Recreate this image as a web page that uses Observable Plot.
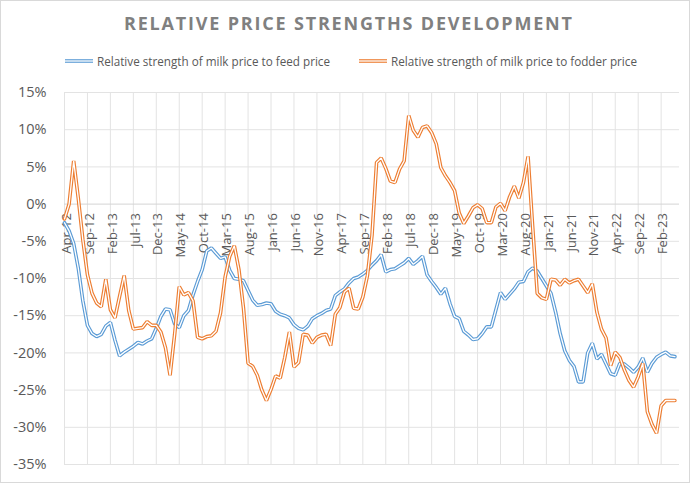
<!DOCTYPE html>
<html>
<head>
<meta charset="utf-8">
<script src="https://cdn.jsdelivr.net/npm/d3@7"></script>
<script src="https://cdn.jsdelivr.net/npm/@observablehq/plot@0.6"></script>
<style>
  body { margin: 0; background: #fff; }
  #wrap { position: relative; width: 696px; height: 484px; overflow: hidden; font-family: "Open Sans", sans-serif; background: #fff; }
  #head { height: 75px; }
  #head svg, #chart svg { display: block; }
  #frame { position: absolute; left: 0; top: 0; width: 688px; height: 481px; border: 1px solid #d9d9d9; pointer-events: none; }
</style>
</head>
<body>
<div id="wrap">
  <div id="head"></div>
  <div id="chart"></div>
  <div id="frame"></div>
</div>
<script>
const chartTitle = "RELATIVE PRICE STRENGTHS DEVELOPMENT";
const seriesNames = ["Relative strength of milk price to feed price", "Relative strength of milk price to fodder price"];
const seriesColors = ["#5B9BD5", "#ED7D31"];
const firstMonth = new Date(Date.UTC(2012, 3, 1)); // Apr-12, monthly categories

// Relative strength of milk price to feed price (%), monthly from Apr-12
const feed = [
  -2.5, -3.6, -5.3, -8.6, -13.0, -16.3, -17.4, -17.8, -17.5, -16.4,
  -15.9, -18.3, -20.4, -19.9, -19.5, -19.1, -18.6, -18.8, -18.4, -18.1,
  -16.7, -15.1, -14.1, -14.2, -16.1, -16.6, -15.0, -14.3, -12.2, -10.4,
  -8.8, -6.3, -5.9, -6.6, -7.3, -7.1, -8.9, -10.0, -10.1, -10.3,
  -11.6, -12.9, -13.6, -13.5, -13.3, -13.4, -14.4, -14.8, -15.0, -15.3,
  -16.2, -16.7, -16.9, -16.4, -15.4, -15.0, -14.7, -14.3, -14.1, -12.3,
  -11.8, -11.4, -10.6, -10.0, -9.8, -9.4, -8.9, -8.2, -7.6, -6.8,
  -9.1, -8.8, -8.7, -8.3, -7.9, -7.3, -8.1, -7.6, -7.0, -9.5,
  -10.4, -11.2, -12.1, -11.3, -13.4, -15.1, -15.4, -17.1, -17.6, -18.2,
  -18.1, -17.4, -16.5, -16.5, -14.2, -11.9, -12.8, -12.1, -11.4, -10.5,
  -10.4, -9.1, -8.6, -9.0, -10.0, -11.0, -12.0, -14.5, -17.4, -19.7,
  -21.0, -21.8, -23.9, -23.9, -20.0, -18.7, -20.8, -20.2, -21.5, -22.8,
  -23.0, -21.4, -21.5, -22.0, -22.6, -21.9, -20.7, -22.6, -21.4, -20.6,
  -20.2, -19.9, -20.4, -20.5
];

// Relative strength of milk price to fodder price (%), monthly from Apr-12
const fodder = [
  -2.0, 0.0, 5.8, 0.8, -4.8, -9.5, -12.0, -13.3, -13.8, -10.1,
  -14.2, -15.3, -12.4, -9.6, -14.3, -16.8, -16.7, -16.6, -15.8, -16.3,
  -16.3, -17.2, -19.3, -23.0, -17.5, -11.1, -12.2, -11.9, -13.0, -17.9,
  -18.1, -17.8, -17.7, -17.1, -14.6, -9.8, -7.0, -5.6, -8.8, -14.0,
  -21.4, -21.8, -23.0, -25.0, -26.4, -24.9, -23.1, -23.4, -20.6, -17.2,
  -21.9, -21.3, -17.5, -17.6, -18.7, -17.9, -17.6, -17.5, -19.0, -14.8,
  -13.9, -11.8, -11.3, -14.0, -14.1, -12.5, -9.6, -4.2, 5.6, 6.2,
  4.8, 3.1, 2.9, 4.7, 5.8, 11.9, 9.9, 9.0, 10.3, 10.5,
  9.6, 8.1, 4.9, 3.8, 2.9, 1.8, -1.2, -2.6, -1.6, -0.5,
  -0.1, -0.6, -2.5, -2.5, -0.4, 0.1, -0.9, 1.0, 2.4, 0.8,
  2.9, 6.4, -3.0, -12.0, -12.6, -12.8, -10.1, -10.2, -10.9, -10.1,
  -10.6, -10.3, -10.1, -11.0, -11.9, -10.7, -14.5, -16.8, -18.0, -21.7,
  -19.9, -20.6, -22.3, -23.7, -24.6, -23.2, -21.4, -27.9, -29.6, -30.8,
  -27.1, -26.4, -26.4, -26.4
];

const xTickLabels = ["Apr-12","Sep-12","Feb-13","Jul-13","Dec-13","May-14","Oct-14","Mar-15","Aug-15",
  "Jan-16","Jun-16","Nov-16","Apr-17","Sep-17","Feb-18","Jul-18","Dec-18","May-19","Oct-19","Mar-20",
  "Aug-20","Jan-21","Jun-21","Nov-21","Apr-22","Sep-22","Feb-23"];
const yTicks = [15, 10, 5, 0, -5, -10, -15, -20, -25, -30, -35];

// month category labels for every data point
const fmt = d3.utcFormat("%b-%y");
const months = feed.map((_, i) => fmt(d3.utcMonth.offset(firstMonth, i)));
const rows = (vals, s) => vals.map((v, i) => ({i, month: months[i], v, s}));
const feedRows = rows(feed, seriesNames[0]);
const fodderRows = rows(fodder, seriesNames[1]);
const xTicks = xTickLabels.map(label => ({label, i: months.indexOf(label)}));

const grey = "#595959";

// Header (title + legend), above the plot svg
const head = d3.select("#head").append("svg").attr("width", 696).attr("height", 75);
head.append("text")
  .attr("x", 348).attr("y", 30)
  .attr("text-anchor", "middle")
  .attr("textLength", 448).attr("lengthAdjust", "spacing")
  .style("font-family", "Open Sans").style("font-size", "18px").style("font-weight", 700)
  .style("fill", "#808080")
  .text(chartTitle);
const legendItems = [
  {name: seriesNames[0], color: seriesColors[0], x0: 65, tx: 97, tl: 233},
  {name: seriesNames[1], color: seriesColors[1], x0: 359, tx: 391, tl: 246}
];
for (const it of legendItems) {
  head.append("line").attr("x1", it.x0).attr("x2", it.x0 + 28).attr("y1", 61).attr("y2", 61)
    .attr("stroke", it.color).attr("stroke-width", 3.6);
  head.append("line").attr("x1", it.x0).attr("x2", it.x0 + 28).attr("y1", 61).attr("y2", 61)
    .attr("stroke", "#fff").attr("stroke-width", 1.3);
  head.append("text").attr("x", it.tx).attr("y", 65.5)
    .attr("textLength", it.tl).attr("lengthAdjust", "spacingAndGlyphs")
    .style("font-family", "Open Sans").style("font-size", "12.5px").style("fill", grey)
    .text(it.name);
}

const plot = Plot.plot({
  width: 696,
  height: 405,
  marginTop: 17,
  marginBottom: 16,
  marginLeft: 64,
  marginRight: 17,
  style: {fontFamily: "Open Sans", background: "transparent", overflow: "visible"},
  x: {type: "linear", domain: [0, months.length], axis: null},
  y: {domain: [-35, 15], axis: null},
  marks: [
    Plot.ruleY(yTicks.filter(d => d !== 0), {stroke: "#e3e3e3", strokeWidth: 1}),
    Plot.ruleX(xTicks, {x: "i", stroke: "#e3e3e3", strokeWidth: 1}),
    Plot.ruleY([0], {stroke: "#d4d4d4", strokeWidth: 1}),
    Plot.text(yTicks, {y: d => d, frameAnchor: "left", dx: -18, textAnchor: "end",
      text: d => `${d}%`, fontSize: 14.5, fill: grey}),
    Plot.text(xTicks, {x: "i", y: () => 0, text: "label", rotate: -90, textAnchor: "end",
      dy: 9, dx: 2, fontSize: 13, fill: grey}),
    Plot.line(feedRows, {x: "i", y: "v", stroke: seriesColors[0], strokeWidth: 3.6, strokeLinejoin: "miter"}),
    Plot.line(feedRows, {x: "i", y: "v", stroke: "#fff", strokeWidth: 1.3, strokeLinejoin: "miter"}),
    Plot.line(fodderRows, {x: "i", y: "v", stroke: seriesColors[1], strokeWidth: 3.6, strokeLinejoin: "miter"}),
    Plot.line(fodderRows, {x: "i", y: "v", stroke: "#fff", strokeWidth: 1.3, strokeLinejoin: "miter"})
  ]
});
document.getElementById("chart").appendChild(plot);
</script>
</body>
</html>
